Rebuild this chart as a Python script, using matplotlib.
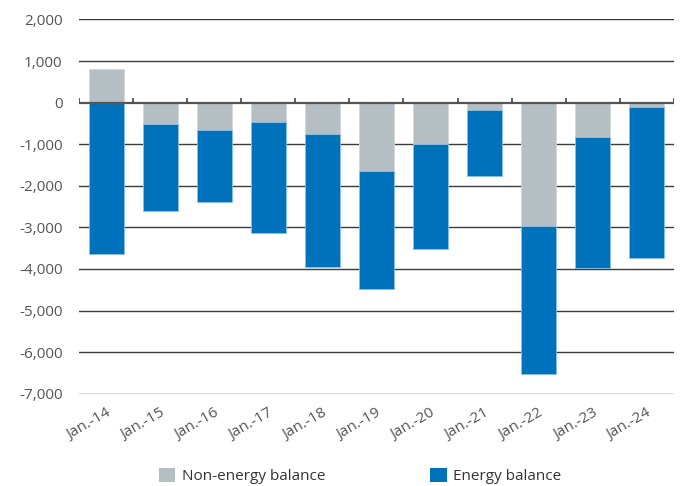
import matplotlib

matplotlib.use("Agg")
import matplotlib.pyplot as plt
import numpy as np
from matplotlib.patches import Patch

plt.rcParams["font.family"] = ["Open Sans", "DejaVu Sans"]

# values
categories = ["Jan.-14", "Jan.-15", "Jan.-16", "Jan.-17", "Jan.-18", "Jan.-19",
              "Jan.-20", "Jan.-21", "Jan.-22", "Jan.-23", "Jan.-24"]
non_energy = [800, -520, -670, -455, -745, -1640, -990, -175, -2960, -825, -105]
energy = [-3640, -2090, -1730, -2690, -3210, -2850, -2530, -1600, -3570, -3145, -3630]
y_ticks = [2000, 1000, 0, -1000, -2000, -3000, -4000, -5000, -6000, -7000]

GRAY = "#b4bec3"
BLUE = "#0072bb"
TEXT = "#555555"

fig = plt.figure(figsize=(6.86, 4.86), dpi=100)
ax = fig.add_axes([0.1156, 0.190, 0.8664, 0.770])

x = np.arange(len(categories))
ne = np.array(non_energy)
en = np.array(energy)
# energy stacks below the non-energy part when that is negative, else from zero
en_bottom = np.minimum(ne, 0)

ax.bar(x, ne, width=0.64, color=GRAY, edgecolor="#d3dadd", linewidth=0.6, zorder=3)
ax.bar(x, en, bottom=en_bottom, width=0.64, color=BLUE, edgecolor="#8cc0e6",
       linewidth=0.6, zorder=3)

ax.set_xlim(-0.5, len(categories) - 0.5)
ax.set_ylim(-7000, 2000)
ax.set_yticks(y_ticks)
ax.set_yticklabels([f"{v:,}" for v in y_ticks])
for v in y_ticks:
    if v != 0:
        ax.axhline(v, color="#3a3a3a", lw=1.0, zorder=1)
ax.axhline(0, color="#555555", lw=1.6, zorder=4)

# small category divider ticks above the zero line
bounds = np.arange(len(categories) + 1) - 0.5
ax.vlines(bounds, 0, 100, color="#444444", lw=1.2, zorder=4)

ax.set_xticks(x)
ax.set_xticklabels(categories, rotation=30, ha="right", rotation_mode="anchor")
ax.tick_params(axis="both", length=0, labelsize=11, labelcolor=TEXT)
ax.tick_params(axis="y", pad=12)
ax.tick_params(axis="x", pad=9)
for s in ax.spines.values():
    s.set_visible(False)

handles = [Patch(facecolor=GRAY, label="Non-energy balance"),
           Patch(facecolor=BLUE, label="Energy balance")]
fig.legend(handles=handles, loc="center", bbox_to_anchor=(0.525, 0.021), ncol=2,
           frameon=False, fontsize=11, labelcolor="#333333", handlelength=1.05,
           handleheight=1.1, columnspacing=6.9, handletextpad=0.45,
           borderpad=0, borderaxespad=0)

fig.savefig("out.png", dpi=100)
